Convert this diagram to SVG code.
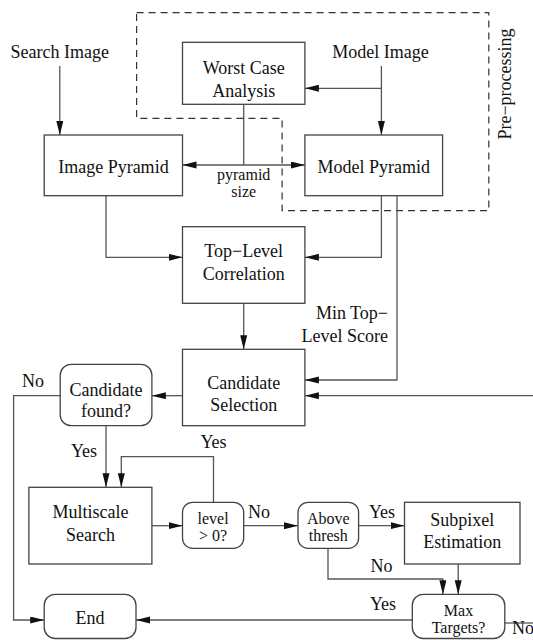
<svg xmlns="http://www.w3.org/2000/svg" width="533" height="640" viewBox="0 0 533 640">
<defs>
<style>
.box{fill:#fff;stroke:#444;stroke-width:1.3}
.ln{fill:none;stroke:#555;stroke-width:1.3}
.arr{marker-end:url(#ah)}
.dash{fill:none;stroke:#333;stroke-width:1.2;stroke-dasharray:7 5}
text{font-family:"Liberation Serif","Times New Roman",serif;font-size:18px;fill:#111}
.c{text-anchor:middle}
.e{text-anchor:end}
.t{font-size:16px}
</style>
<marker id="ah" markerUnits="userSpaceOnUse" markerWidth="15" markerHeight="8" refX="14" refY="3.5" orient="auto-start-reverse">
<path d="M0,0 L14,3.5 L0,7 Z" fill="#111"/>
</marker>
</defs>
<rect width="533" height="640" fill="#fff"/>

<g id="preprocessing">
<path class="dash" d="M136.6,12.7 H488.8 V210.7 H282.1 V118.3 H136.6 Z"/>
<text class="c" transform="translate(511,84) rotate(-90)">Pre−processing</text>
</g>

<g id="connectors">
<path class="ln arr" d="M59.8,66 V135"/>
<path class="ln arr" d="M381.4,66 V135"/>
<path class="ln arr" d="M381.4,88.3 H304.9"/>
<path class="ln" d="M243.7,104.3 V165"/>
<path class="ln arr" d="M182.5,165 H304.9" marker-start="url(#ah)"/>
<path class="ln arr" d="M106,195.7 V257.3 H182.5"/>
<path class="ln arr" d="M381.4,195.7 V257.3 H304.9"/>
<path class="ln arr" d="M243.7,303.3 V349.3"/>
<path class="ln arr" d="M397,195.7 V380 H304.9"/>
<path class="ln arr" d="M533,395.7 H304.9"/>
<path class="ln arr" d="M182.5,395.7 H151.9"/>
<path class="ln arr" d="M60.2,395.7 H13.6 V620 H44.2"/>
<path class="ln arr" d="M106,425.7 V487.3"/>
<path class="ln arr" d="M151.9,525.7 H182.5"/>
<path class="ln arr" d="M213.5,502.3 V456.7 H121.3 V487.3"/>
<path class="ln arr" d="M243.7,525.7 H298"/>
<path class="ln arr" d="M358.6,525.7 H404.5"/>
<path class="ln arr" d="M328,548.3 V579 H442.9 V594.3"/>
<path class="ln arr" d="M458.2,564 V594.3"/>
<path class="ln arr" d="M412.3,620 H136"/>
<path class="ln" d="M504.8,623 H533"/>
</g>

<g id="labels">
<text class="c t" x="243.7" y="179.5">pyramid</text>
<text class="c t" x="243.7" y="196.5">size</text>
<text class="e" x="388" y="319.3">Min Top−</text>
<text class="e" x="388" y="341.7">Level Score</text>
<text class="c" x="33" y="387.3">No</text>
<text class="c" x="84" y="456.7">Yes</text>
<text class="c" x="213.5" y="448.3">Yes</text>
<text class="c" x="259" y="518.3">No</text>
<text class="c" x="382" y="518.3">Yes</text>
<text class="c" x="381.4" y="571.7">No</text>
<text class="c" x="383" y="610">Yes</text>
<text x="512" y="634">No</text>
</g>

<g id="search-image"><text class="c" x="59.8" y="58">Search Image</text></g>
<g id="model-image"><text class="c" x="380.5" y="58">Model Image</text></g>

<g id="worst-case">
<rect class="box" x="182.5" y="42.3" width="122.4" height="62"/>
<text class="c" x="243.7" y="74">Worst Case</text>
<text class="c" x="243.7" y="97">Analysis</text>
</g>

<g id="image-pyramid">
<rect class="box" x="44.2" y="135" width="138.3" height="60.7"/>
<text class="c" x="113.4" y="173">Image Pyramid</text>
</g>

<g id="model-pyramid">
<rect class="box" x="304.9" y="135" width="137.7" height="60.7"/>
<text class="c" x="373.8" y="173">Model Pyramid</text>
</g>

<g id="top-level">
<rect class="box" x="182.5" y="226.7" width="122.4" height="76.6"/>
<text class="c" x="243.7" y="257.3">Top−Level</text>
<text class="c" x="243.7" y="280">Correlation</text>
</g>

<g id="candidate-selection">
<rect class="box" x="182.5" y="349.3" width="122.4" height="76.4"/>
<text class="c" x="243.7" y="388.5">Candidate</text>
<text class="c" x="243.7" y="411">Selection</text>
</g>

<g id="candidate-found">
<rect class="box" x="60.2" y="364.3" width="91.7" height="61.4" rx="11"/>
<text class="c" x="106" y="395.5">Candidate</text>
<text class="c" x="106" y="417">found?</text>
</g>

<g id="multiscale">
<rect class="box" x="28.9" y="487.3" width="123" height="76.7"/>
<text class="c" x="90.4" y="518.3">Multiscale</text>
<text class="c" x="90.4" y="540.7">Search</text>
</g>

<g id="level">
<rect class="box" x="182.5" y="502.3" width="61.2" height="46" rx="10"/>
<text class="c t" x="213.1" y="524">level</text>
<text class="c t" x="213.1" y="541">&gt; 0?</text>
</g>

<g id="above-thresh">
<rect class="box" x="298" y="502.3" width="60.6" height="46" rx="10"/>
<text class="c t" x="328.3" y="524">Above</text>
<text class="c t" x="328.3" y="541">thresh</text>
</g>

<g id="subpixel">
<rect class="box" x="404.5" y="502.3" width="115.5" height="61.7"/>
<text class="c" x="462.2" y="526">Subpixel</text>
<text class="c" x="462.2" y="548.3">Estimation</text>
</g>

<g id="end">
<rect class="box" x="44.2" y="594.3" width="91.8" height="44.2" rx="11"/>
<text class="c" x="90" y="624">End</text>
</g>

<g id="max-targets">
<rect class="box" x="412.3" y="594.3" width="92.5" height="44.2" rx="11"/>
<text class="c t" x="458.5" y="616">Max</text>
<text class="c t" x="458.5" y="633">Targets?</text>
</g>
</svg>
